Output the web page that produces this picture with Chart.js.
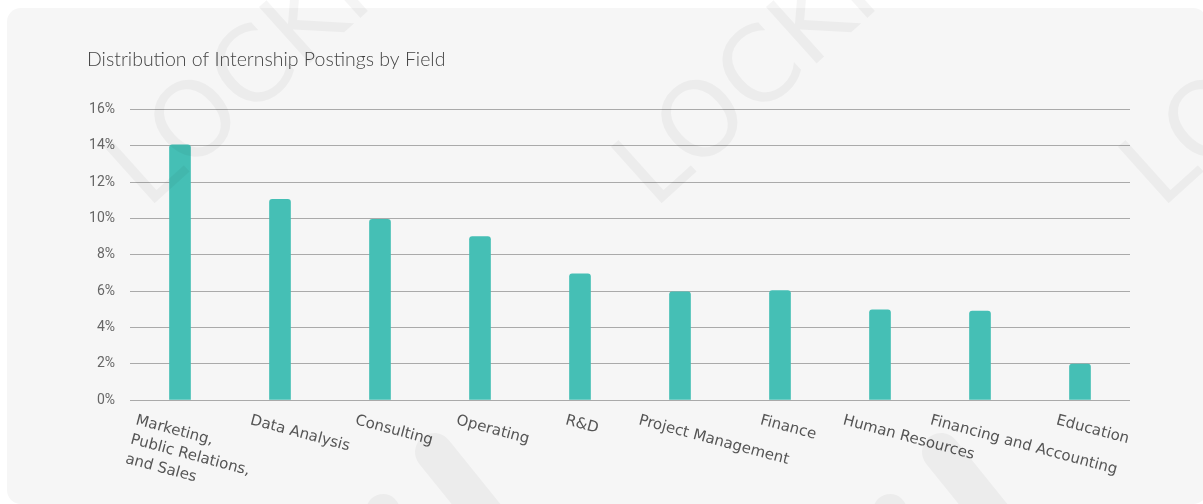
<!DOCTYPE html>
<html>
<head>
<meta charset="utf-8">
<script src="https://cdn.jsdelivr.net/npm/chart.js"></script>
<style>
  html, body { margin: 0; padding: 0; background: #ffffff; }
  .card {
    position: absolute; left: 7px; top: 8px; width: 1200px; height: 496px;
    background: #f6f6f6; border-radius: 14px;
  }
  #chart { position: absolute; left: 0; top: 0; }
</style>
</head>
<body>
<div class="card"></div>
<canvas id="chart" width="1203" height="504"></canvas>
<script>
// share of internship postings per field, in percent
var fields = [
  ['Marketing,', 'Public Relations,', 'and Sales'],
  ['Data Analysis'],
  ['Consulting'],
  ['Operating'],
  ['R&D'],
  ['Project Management'],
  ['Finance'],
  ['Human Resources'],
  ['Financing and Accounting'],
  ['Education']
];
var shares = [14.05, 11.05, 9.95, 9, 6.95, 5.95, 6.02, 4.97, 4.9, 1.98];
var percentTicks = [0, 2, 4, 6, 8, 10, 12, 14, 16];

var labelFont = '15px "DejaVu Sans"';

// x labels are tilted clockwise, so they are drawn here instead of by the axis
var slantedLabels = {
  id: 'slantedLabels',
  afterDraw: function(chart) {
    var ctx = chart.ctx;
    var xScale = chart.scales.x;
    var angle = 15 * Math.PI / 180;
    ctx.save();
    ctx.font = labelFont;
    ctx.fillStyle = '#555555';
    ctx.textAlign = 'left';
    ctx.textBaseline = 'top';
    fields.forEach(function(lines, i) {
      var w = Math.max.apply(null, lines.map(function(s) { return ctx.measureText(s).width; }));
      var x = xScale.getPixelForTick(i) - 5 - 0.22 * w - 5 * (lines.length - 1);
      var y = xScale.top + 13;
      ctx.save();
      ctx.translate(x, y);
      ctx.rotate(angle);
      lines.forEach(function(s, j) {
        ctx.fillText(s, 0, j * 20);
      });
      ctx.restore();
    });
    ctx.restore();
  }
};

// faint brand mark laid over the whole card
var watermark = {
  id: 'watermark',
  afterDraw: function(chart) {
    var ctx = chart.ctx;
    ctx.save();
    ctx.font = '104px "DejaVu Sans"';
    ctx.fillStyle = 'rgba(0, 0, 0, 0.04)';
    ctx.strokeStyle = 'rgba(0, 0, 0, 0.04)';
    ctx.lineCap = 'round';
    [147, 654, 1161].forEach(function(x) {
      ctx.save();
      ctx.translate(x, 210);
      ctx.rotate(-42 * Math.PI / 180);
      ctx.fillText('LOCKIN', 0, 0);
      ctx.restore();
      // pieces of the logo below the word
      ctx.lineWidth = 38;
      ctx.beginPath();
      ctx.moveTo(x + 287, 452);
      ctx.lineTo(x + 350, 530);
      ctx.stroke();
      ctx.lineWidth = 34;
      ctx.beginPath();
      ctx.moveTo(x + 236, 511);
      ctx.lineTo(x + 215, 560);
      ctx.stroke();
    });
    ctx.restore();
  }
};

var ctx = document.getElementById('chart');

var barGraph = new Chart(ctx, {
  type: 'bar',
  data: {
    labels: fields,
    datasets: [{
      label: 'Share of postings',
      data: shares,
      backgroundColor: '#45bfb5',
      borderRadius: { topLeft: 3, topRight: 3 },
      borderSkipped: 'bottom',
      barThickness: 21
    }]
  },
  options: {
    responsive: false,
    animation: false,
    devicePixelRatio: 1,
    layout: { padding: { left: 87, top: 48, right: 73, bottom: 0 } },
    plugins: {
      legend: { display: false },
      tooltip: { enabled: false },
      title: {
        display: true,
        text: 'Distribution of Internship Postings by Field',
        align: 'start',
        color: '#444444',
        font: { family: 'Lato', size: 19.5, weight: 300 },
        padding: { top: 0, bottom: 38 }
      }
    },
    scales: {
      x: {
        grid: { display: false },
        border: { display: false },
        ticks: { display: false },
        afterFit: function(scale) { scale.height = 104; }
      },
      y: {
        min: 0,
        max: 16,
        afterBuildTicks: function(scale) {
          scale.ticks = percentTicks.map(function(v) { return { value: v }; });
        },
        ticks: {
          padding: 15,
          color: '#666666',
          font: { family: 'Roboto', size: 14 },
          callback: function(v) { return v + '%'; }
        },
        grid: { color: '#aaaaaa', drawTicks: false },
        border: { display: false },
        afterFit: function(scale) { scale.width = 43; }
      }
    }
  },
  plugins: [slantedLabels, watermark]
});
</script>
</body>
</html>
